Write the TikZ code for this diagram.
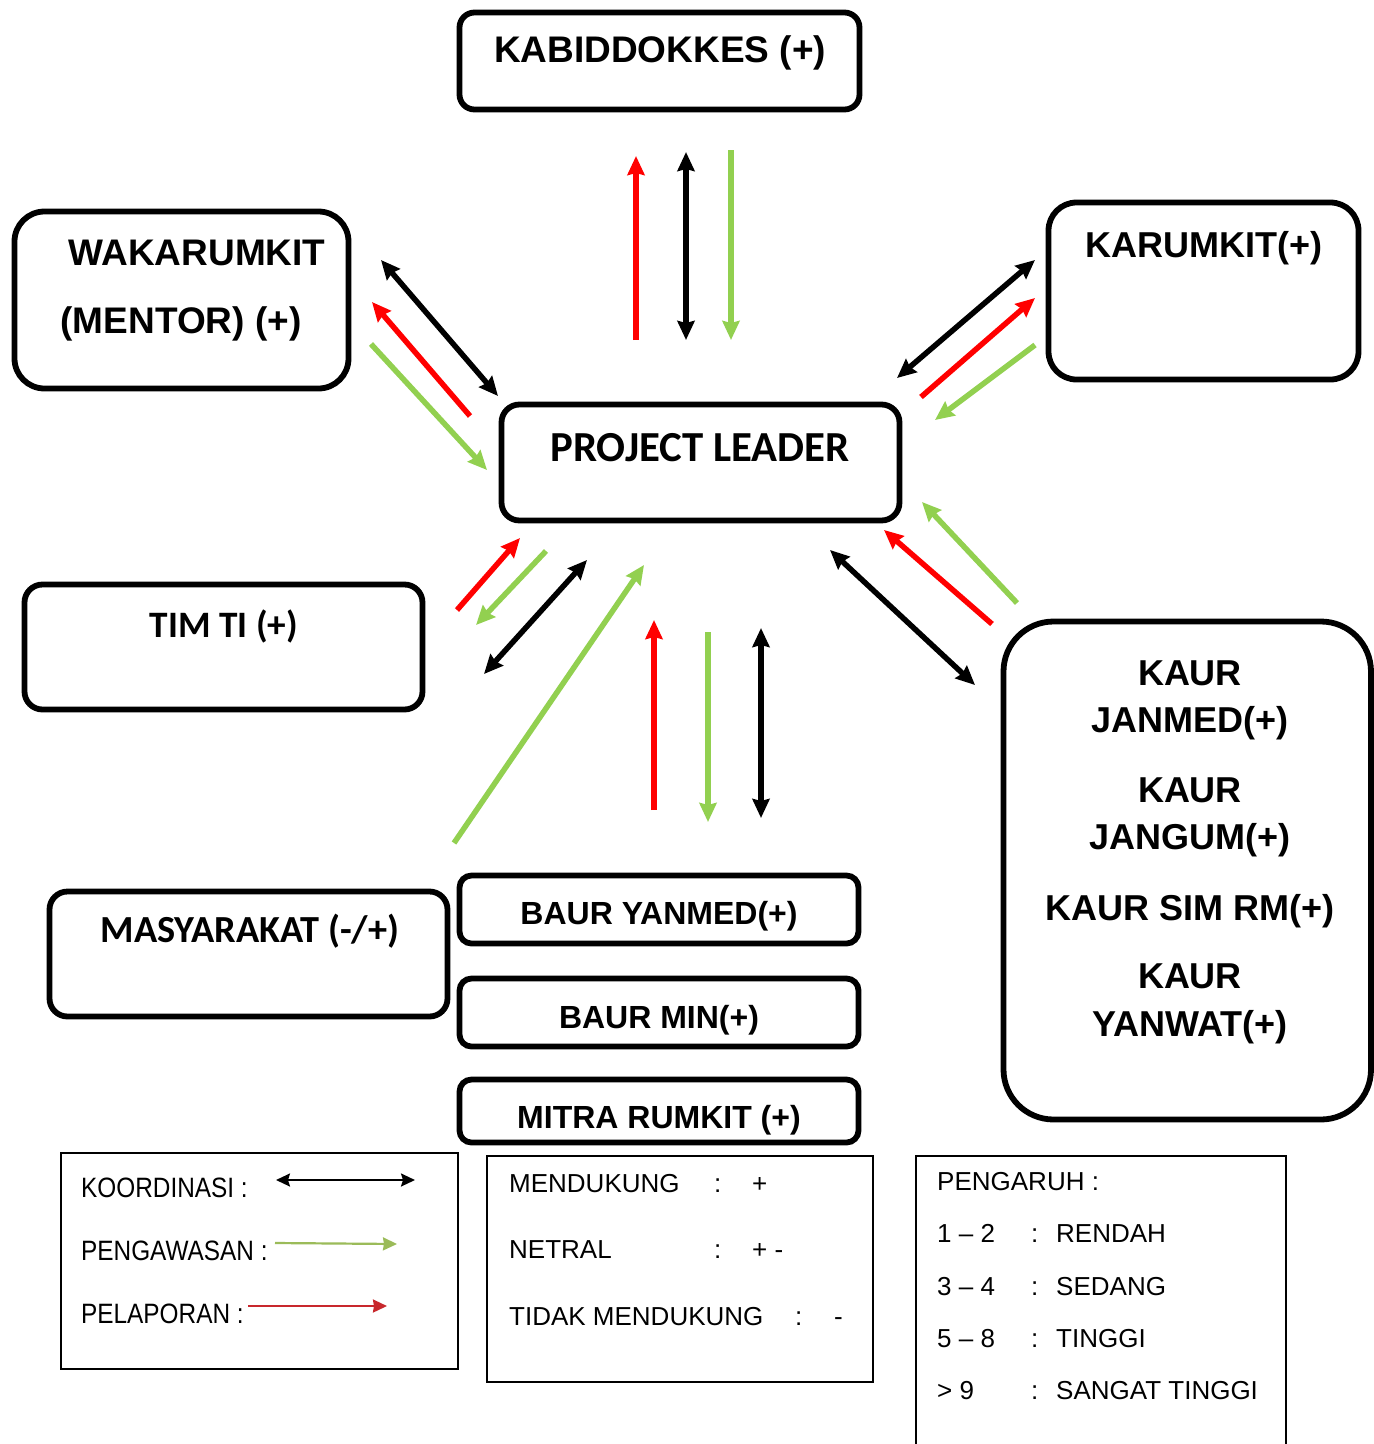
\documentclass[tikz,border=0pt]{standalone}
\usepackage{fontspec}
\setmainfont{Liberation Sans}
\newfontfamily\calfont{Carlito}
\usetikzlibrary{arrows.meta,fit}
\definecolor{ared}{HTML}{FF0000}
\definecolor{agreen}{HTML}{92D050}
\definecolor{lgreen}{HTML}{9BBB59}
\definecolor{lred}{HTML}{C8282D}
\tikzset{
  box/.style={draw, line width=5.8pt, inner sep=0pt, rounded corners=#1},
  box/.default=15pt,
  lbox/.style={draw, line width=1.3pt, inner sep=0pt},
  title/.style={font=\bfseries\fontsize{#1}{#1}\selectfont, anchor=base, inner sep=0pt},
  ctitle/.style={font=\calfont\bfseries\fontsize{#1}{#1}\selectfont, anchor=base, inner sep=0pt},
  ltext/.style={font=\fontsize{26}{26}\selectfont, anchor=base west, inner sep=0pt},
  lltext/.style={font=\fontsize{28}{28}\selectfont, anchor=base west, inner sep=0pt},
  uni/.style={line width=5.5pt, -{Stealth[length=19pt,width=17pt,inset=2pt]}},
  bi/.style={line width=5.5pt, {Stealth[length=19pt,width=17pt,inset=2pt]}-{Stealth[length=19pt,width=17pt,inset=2pt]}},
  luni/.style={line width=2.2pt, -{Stealth[length=14pt,width=13pt,inset=1pt]}},
  lbi/.style={line width=2.2pt, {Stealth[length=14pt,width=13pt,inset=2pt]}-{Stealth[length=14pt,width=13pt,inset=2pt]}}
}
\begin{document}
\begin{tikzpicture}[x=1pt,y=-1pt]
\clip (0,0) rectangle (1374,1444);
\fill[white] (0,0) rectangle (1374,1444);

% boxes
\node[box=15pt, fit={(459.5,12.5) (859.5,109.5)}] (kabid) {};
\node[box=30pt, fit={(14.5,211.5) (348.5,388.5)}] (waka) {};
\node[box=28pt, fit={(1048.5,202.5) (1358.5,379.5)}] (karum) {};
\node[box=18pt, fit={(501.5,404.5) (899.5,520.5)}] (pl) {};
\node[box=18pt, fit={(24.5,584.5) (422.5,709.5)}] (timti) {};
\node[box=50pt, fit={(1003.5,621.5) (1371,1119.5)}] (kaur) {};
\node[box=18pt, fit={(49.5,891.5) (447.5,1016.5)}] (masy) {};
\node[box=12pt, fit={(459.5,875.5) (858.5,943.5)}] (by) {};
\node[box=12pt, fit={(459.5,978.5) (858.5,1046.5)}] (bm) {};
\node[box=12pt, fit={(459.5,1079.5) (858.5,1142.5)}] (mr) {};

% box texts
\node[title=37] (tkabid) at (660,62) {KABIDDOKKES (+)};
\node[title=37] (twaka1) at (197,265) {WAKARUMKIT};
\node[title=37] (twaka2) at (181,333) {(MENTOR) (+)};
\node[title=36] (tkarum) at (1204,257) {KARUMKIT(+)};
\node[ctitle=42.8] (tpl) at (700,461.5) {PROJECT LEADER};
\node[ctitle=37.3] (ttimti) at (224,637) {TIM TI (+)};
\node[title=36] (tk1) at (1190,685) {KAUR};
\node[title=36] (tk2) at (1190,732) {JANMED(+)};
\node[title=36] (tk3) at (1190,802) {KAUR};
\node[title=36] (tk4) at (1190,849) {JANGUM(+)};
\node[title=36] (tk5) at (1190,920) {KAUR SIM RM(+)};
\node[title=36] (tk6) at (1190,988) {KAUR};
\node[title=36] (tk7) at (1190,1036) {YANWAT(+)};
\node[ctitle=38.3] (tmasy) at (250,942) {MASYARAKAT (-/+)};
\node[title=32] (tby) at (659,924) {BAUR YANMED(+)};
\node[title=32] (tbm) at (659,1028) {BAUR MIN(+)};
\node[title=32] (tmr) at (659,1128) {MITRA RUMKIT (+)};

% connector end points
\coordinate (a1s) at (636,340); \coordinate (a1e) at (636,156);
\coordinate (a2s) at (686,152); \coordinate (a2e) at (686,340);
\coordinate (a3s) at (731,150); \coordinate (a3e) at (731,340);

\coordinate (b1s) at (381,260); \coordinate (b1e) at (498,396);
\coordinate (b2s) at (470,416); \coordinate (b2e) at (372,302);
\coordinate (b3s) at (371,344); \coordinate (b3e) at (487,470);

\coordinate (c1s) at (897,378); \coordinate (c1e) at (1035,260);
\coordinate (c2s) at (921,397); \coordinate (c2e) at (1035,298);
\coordinate (c3s) at (1035,345); \coordinate (c3e) at (935,420);

\coordinate (d1s) at (1017,603); \coordinate (d1e) at (922,502);
\coordinate (d2s) at (992,624); \coordinate (d2e) at (884,530);
\coordinate (d3s) at (830,550); \coordinate (d3e) at (975,685);

\coordinate (e1s) at (457,610); \coordinate (e1e) at (520,538);
\coordinate (e2s) at (546,551); \coordinate (e2e) at (476,625);
\coordinate (e3s) at (484,674); \coordinate (e3e) at (587,560);

\coordinate (f1s) at (454,843); \coordinate (f1e) at (644,565);

\coordinate (g1s) at (654,810); \coordinate (g1e) at (654,620);
\coordinate (g2s) at (708,632); \coordinate (g2e) at (708,822);
\coordinate (g3s) at (761,628); \coordinate (g3e) at (761,818);

% connectors
\draw[uni, ared] (a1s) -- (a1e);
\draw[bi] (a2s) -- (a2e);
\draw[uni, agreen] (a3s) -- (a3e);

\draw[bi] (b1s) -- (b1e);
\draw[uni, ared] (b2s) -- (b2e);
\draw[uni, agreen] (b3s) -- (b3e);

\draw[bi] (c1s) -- (c1e);
\draw[uni, ared] (c2s) -- (c2e);
\draw[uni, agreen] (c3s) -- (c3e);

\draw[uni, agreen] (d1s) -- (d1e);
\draw[uni, ared] (d2s) -- (d2e);
\draw[bi] (d3s) -- (d3e);

\draw[uni, ared] (e1s) -- (e1e);
\draw[uni, agreen] (e2s) -- (e2e);
\draw[bi] (e3s) -- (e3e);

\draw[uni, agreen] (f1s) -- (f1e);

\draw[uni, ared] (g1s) -- (g1e);
\draw[uni, agreen] (g2s) -- (g2e);
\draw[bi] (g3s) -- (g3e);

% legend boxes
\node[lbox, fit={(61,1153) (458,1369)}] (leg1) {};
\node[lbox, fit={(487,1156) (873,1382)}] (leg2) {};
\node[lbox, fit={(916,1156) (1286,1470)}] (leg3) {};

% legend 1
\node[lltext] (lk) at (81,1197) {\scalebox{0.87}[1]{KOORDINASI :}};
\node[lltext] (lp) at (81,1260) {\scalebox{0.87}[1]{PENGAWASAN :}};
\node[lltext] (ll) at (81,1323) {\scalebox{0.87}[1]{PELAPORAN :}};
\coordinate (lk1) at (276,1180); \coordinate (lk2) at (415,1180);
\coordinate (lp1) at (275,1243); \coordinate (lp2) at (397,1244);
\coordinate (ll1) at (248,1306); \coordinate (ll2) at (387,1306);
\draw[lbi] (lk1) -- (lk2);
\draw[luni, lgreen] (lp1) -- (lp2);
\draw[luni, lred] (ll1) -- (ll2);

% legend 2
\node[ltext] (m1) at (509,1192) {MENDUKUNG};
\node[ltext] (m1c) at (714,1192) {:};
\node[ltext] (m1v) at (752,1192) {+};
\node[ltext] (m2) at (509,1258) {NETRAL};
\node[ltext] (m2c) at (714,1258) {:};
\node[ltext] (m2v) at (752,1258) {+ -};
\node[ltext] (m3) at (509,1325) {TIDAK MENDUKUNG};
\node[ltext] (m3c) at (795,1325) {:};
\node[ltext] (m3v) at (834,1325) {-};

% legend 3
\node[ltext] (p0) at (937,1190) {PENGARUH :};
\node[ltext] (p1) at (937,1242) {1 – 2};
\node[ltext] (p1c) at (1031,1242) {:};
\node[ltext] (p1v) at (1056,1242) {RENDAH};
\node[ltext] (p2) at (937,1295) {3 – 4};
\node[ltext] (p2c) at (1031,1295) {:};
\node[ltext] (p2v) at (1056,1295) {SEDANG};
\node[ltext] (p3) at (937,1347) {5 – 8};
\node[ltext] (p3c) at (1031,1347) {:};
\node[ltext] (p3v) at (1056,1347) {TINGGI};
\node[ltext] (p4) at (937,1399) {> 9};
\node[ltext] (p4c) at (1031,1399) {:};
\node[ltext] (p4v) at (1056,1399) {SANGAT TINGGI};
\end{tikzpicture}
\end{document}
